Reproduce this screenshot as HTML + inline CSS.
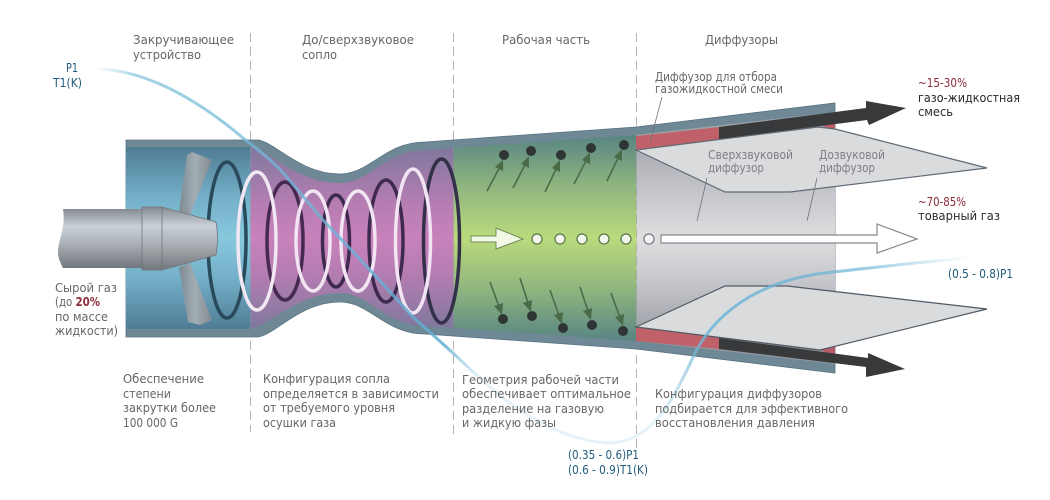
<!DOCTYPE html>
<html><head><meta charset="utf-8"><style>
html,body{margin:0;padding:0;background:#fff;width:1050px;height:500px;overflow:hidden}
svg{display:block}
text{font-family:"DejaVu Sans","Liberation Sans",sans-serif;font-size:12.4px;fill:#666}
.d{fill:#1f5b7a}.k{fill:#2a2a2a}.r{fill:#8c2c38}.g{fill:#7d7f84}
</style></head><body>
<svg width="1050" height="500" viewBox="0 0 1050 500" xmlns="http://www.w3.org/2000/svg">
<defs>
<linearGradient id="bl" gradientUnits="userSpaceOnUse" x1="0" y1="147" x2="0" y2="329"><stop offset="0" stop-color="#4f7c94"/><stop offset=".28" stop-color="#74b0c9"/><stop offset=".5" stop-color="#88c8dd"/><stop offset=".72" stop-color="#74b0c9"/><stop offset="1" stop-color="#4f7c94"/></linearGradient>
<linearGradient id="pu" gradientUnits="userSpaceOnUse" x1="0" y1="147" x2="0" y2="329"><stop offset="0" stop-color="#7f789c"/><stop offset=".3" stop-color="#b47db2"/><stop offset=".5" stop-color="#c881bb"/><stop offset=".7" stop-color="#b47db2"/><stop offset="1" stop-color="#7f789c"/></linearGradient>
<linearGradient id="gr" gradientUnits="userSpaceOnUse" x1="0" y1="135" x2="0" y2="341"><stop offset="0" stop-color="#588582"/><stop offset=".25" stop-color="#8fb57f"/><stop offset=".5" stop-color="#bada7c"/><stop offset=".75" stop-color="#8fb57f"/><stop offset="1" stop-color="#588582"/></linearGradient>
<linearGradient id="gy" gradientUnits="userSpaceOnUse" x1="0" y1="130" x2="0" y2="346"><stop offset="0" stop-color="#a0a2aa"/><stop offset=".3" stop-color="#c6c7cc"/><stop offset=".5" stop-color="#dededf"/><stop offset=".7" stop-color="#c6c7cc"/><stop offset="1" stop-color="#94969e"/></linearGradient>
<linearGradient id="tb" x1="0" y1="0" x2="0" y2="1"><stop offset="0" stop-color="#858b91"/><stop offset=".3" stop-color="#c9d1d9"/><stop offset=".6" stop-color="#a9aeb3"/><stop offset="1" stop-color="#72777d"/></linearGradient>
<linearGradient id="bd" x1="0" y1="0" x2="1" y2="0"><stop offset="0" stop-color="#7e8a92"/><stop offset=".5" stop-color="#a3aeb4"/><stop offset="1" stop-color="#808a90"/></linearGradient>
<linearGradient id="ln" gradientUnits="userSpaceOnUse" x1="95" y1="0" x2="970" y2="0">
<stop offset="0" stop-color="#7cc0dc" stop-opacity="0"/><stop offset=".05" stop-color="#7cc0dc" stop-opacity=".7"/>
<stop offset=".4" stop-color="#62acd2" stop-opacity=".85"/><stop offset=".44" stop-color="#9acde2" stop-opacity=".25"/>
<stop offset=".64" stop-color="#9acde2" stop-opacity=".25"/><stop offset=".7" stop-color="#6cb4d6" stop-opacity=".85"/>
<stop offset=".88" stop-color="#6cb4d6" stop-opacity=".7"/><stop offset="1" stop-color="#7cc0dc" stop-opacity="0"/></linearGradient>
<clipPath id="in"><path d="M126,147 L250,147 C270,150 297,183 340,183 C370,183 385,150 425,150 L636,135 L835,112 L835,364 L636,341 L425,326 C385,326 370,293 340,293 C297,293 270,326 250,329 L126,329 Z"/></clipPath>
</defs>

<g stroke="#b5b5b5" stroke-width="1" stroke-dasharray="9 5" fill="none">
<path d="M250.500,33V432M453.500,33V434M636.500,33V448"/>
</g>

<path d="M126,140 L258,140 C275,142 300,174 340,174 C370,174 385,142 425,142 L636,127 L835,103 L835,373 L636,349 L425,334 C385,334 370,302 340,302 C300,302 275,335 258,337 L126,337 Z" fill="#6e8896" stroke="#587280" stroke-width=".8"/>
<g clip-path="url(#in)">
<rect x="126" y="100" width="124.500" height="280" fill="url(#bl)"/>
<rect x="250.500" y="100" width="203" height="280" fill="url(#pu)"/>
<rect x="453.500" y="100" width="183" height="280" fill="url(#gr)"/>
<rect x="636.500" y="100" width="199" height="280" fill="url(#gy)"/>
<path d="M250.500,33V432M453.500,33V434M636.500,33V448" stroke="#9a9aa0" stroke-dasharray="9 5" opacity=".6" fill="none"/>
</g>

<!-- blades -->
<polygon points="187,155 192,152 212,160 190,215 179,212" fill="url(#bd)"/>
<polygon points="179,267 190,263 212,320 200,325 188,322" fill="url(#bd)"/>

<!-- rings -->
<g fill="none" stroke-width="3.500">
<ellipse cx="227" cy="240" rx="19" ry="78" stroke="#284a5a"/>
<ellipse cx="285" cy="241" rx="18" ry="59" stroke="#45294f"/>
<ellipse cx="257" cy="241" rx="19" ry="69" stroke="#f2e8f3"/>
<ellipse cx="336" cy="241" rx="13.500" ry="46" stroke="#3e2a4e"/>
<ellipse cx="313" cy="241" rx="17" ry="50" stroke="#f2e4f2"/>
<ellipse cx="386" cy="241" rx="17" ry="61" stroke="#3e2a4e"/>
<ellipse cx="358" cy="241" rx="17" ry="50" stroke="#f2e4f2"/>
<ellipse cx="441.500" cy="241" rx="18" ry="82" stroke="#33304a"/>
<ellipse cx="413" cy="241" rx="17.500" ry="72" stroke="#f2e4f2"/>
</g>

<!-- nozzle -->
<path d="M63,209 L142,209 L142,268 L63,268 C60,262 58,258 58,252 C58,240 66,228 63,209 Z" fill="url(#tb)"/>
<path d="M142,207 L162,207 L216,222 Q219,238 216,255 L162,270 L142,270 Z" fill="url(#tb)" stroke="#70767c" stroke-width=".8"/>
<path d="M162,207V270" stroke="#70767c" stroke-width=".8"/>

<!-- green dots and arrows -->
<g fill="#2f3535"><circle cx="504" cy="155" r="5"/><circle cx="531" cy="151" r="5"/><circle cx="561" cy="155" r="5"/><circle cx="591" cy="148" r="5"/><circle cx="624" cy="145" r="5"/><circle cx="503" cy="319" r="5"/><circle cx="532" cy="316" r="5"/><circle cx="563" cy="328" r="5"/><circle cx="592" cy="325" r="5"/><circle cx="623" cy="331" r="5"/></g>
<g stroke="#4a6b48" stroke-width="1.600" fill="#4a6b48">
<path d="M487,191L502,163M513,188L528,159M545,192L559,163M574,184L589,155M607,181L621,152M490,282L501,312M520,278L530,309M550,290L561,321M580,287L590,317M611,293L622,323" fill="none"/>
</g>
<g fill="#4a6b48">
<polygon points="503,160 503,171 495,167"/><polygon points="529,156 529,168 521,164"/><polygon points="560,160 560,172 552,168"/><polygon points="590,152 590,164 582,160"/><polygon points="622,149 622,161 614,157"/>
<polygon points="502,315 494,306 503,303"/><polygon points="531,312 523,303 532,300"/><polygon points="562,324 554,315 563,312"/><polygon points="591,320 583,311 592,308"/><polygon points="623,326 615,317 624,314"/>
</g>

<polygon points="471,236 496,236 496,228 523,239 496,249 496,242 471,242" fill="#f2f7e6" stroke="#6e8c58" stroke-width="1"/>
<g fill="#f4f8ec" stroke="#5e7a4e" stroke-width="1.300"><circle cx="537" cy="239" r="5"/><circle cx="560" cy="239" r="5"/><circle cx="582" cy="239" r="5"/><circle cx="604" cy="239" r="5"/><circle cx="626" cy="239" r="5"/></g>
<circle cx="649" cy="239" r="5" fill="#f5f5f7" stroke="#777b80" stroke-width="1.300"/>
<polygon points="661,235 877,235 877,224 917,239 877,253 877,243 661,243" fill="#fff" stroke="#85888e" stroke-width="1.200"/>

<!-- red bands -->
<polygon points="636,136 720,127 720,139 636,150" fill="#c0616a"/>
<polygon points="636,327 720,338 720,349 636,341" fill="#c0616a"/>
<polygon points="818,124 835,120 835,131" fill="#b95c66"/>
<polygon points="820,350 835,345 835,356" fill="#b95c66"/>

<!-- diffusers -->
<polygon points="636,150 725,192 790,192 987,168 835,129 818,127" fill="#dadbdd" stroke="#5f6a74" stroke-width="1.200"/>
<polygon points="636,327 725,286 787,286 987,309 820,350" fill="#dadbdd" stroke="#4f5a64" stroke-width="1.200"/>

<!-- dark arrows -->
<polygon points="719,127 866,108 866,101 906,108 869,125 867,120 719,139" fill="#37393b"/>
<polygon points="719,338 868,358 868,353 905,369 866,377 866,367 719,349" fill="#37393b"/>

<!-- guide lines -->
<path d="M662,97L650,142M707,178L697,221M817,178L807,221" stroke="#6d7278" stroke-width=".8" fill="none"/>

<!-- flow line -->
<path d="M98,69 C140,70 190,93 243,138 C258,150 272,160 285,175 L323,220 L370,270 L413,317 L453,353 C490,388 540,438 607,443 C650,443 670,407 695,353 C720,305 770,278 833,272 C870,268 920,262 968,258" fill="none" stroke="url(#ln)" stroke-width="3"/>

<!-- text -->
<text x="133" y="44" textLength="101" lengthAdjust="spacingAndGlyphs">Закручивающее</text>
<text x="133" y="59" textLength="68" lengthAdjust="spacingAndGlyphs">устройство</text>
<text x="302" y="44" textLength="112" lengthAdjust="spacingAndGlyphs">До/сверхзвуковое</text>
<text x="302" y="59" textLength="35" lengthAdjust="spacingAndGlyphs">сопло</text>
<text x="502" y="44" textLength="88" lengthAdjust="spacingAndGlyphs">Рабочая часть</text>
<text x="705" y="44" textLength="73" lengthAdjust="spacingAndGlyphs">Диффузоры</text>
<text class="d" x="66" y="72" textLength="12" lengthAdjust="spacingAndGlyphs">P1</text>
<text class="d" x="53" y="87" textLength="29" lengthAdjust="spacingAndGlyphs">T1(K)</text>
<text x="655" y="81" textLength="122" lengthAdjust="spacingAndGlyphs">Диффузор для отбора</text>
<text x="655" y="93" textLength="128" lengthAdjust="spacingAndGlyphs">газожидкостной смеси</text>
<text class="r" x="918" y="87" textLength="49" lengthAdjust="spacingAndGlyphs">~15-30%</text>
<text class="k" x="918" y="102" textLength="102" lengthAdjust="spacingAndGlyphs">газо-жидкостная</text>
<text class="k" x="918" y="116" textLength="35" lengthAdjust="spacingAndGlyphs">смесь</text>
<text class="g" x="708" y="159" textLength="85" lengthAdjust="spacingAndGlyphs">Сверхзвуковой</text>
<text class="g" x="708" y="172" textLength="56" lengthAdjust="spacingAndGlyphs">диффузор</text>
<text class="g" x="819" y="159" textLength="66" lengthAdjust="spacingAndGlyphs">Дозвуковой</text>
<text class="g" x="819" y="172" textLength="56" lengthAdjust="spacingAndGlyphs">диффузор</text>
<text class="r" x="918" y="206" textLength="48" lengthAdjust="spacingAndGlyphs">~70-85%</text>
<text class="k" x="918" y="220" textLength="82" lengthAdjust="spacingAndGlyphs">товарный газ</text>
<text class="d" x="948" y="278" textLength="65" lengthAdjust="spacingAndGlyphs">(0.5 - 0.8)P1</text>
<text x="55" y="292" textLength="62" lengthAdjust="spacingAndGlyphs">Сырой газ</text>
<text x="55" y="306" textLength="45" lengthAdjust="spacingAndGlyphs">(до <tspan class="r" font-weight="bold">20%</tspan></text>
<text x="55" y="321" textLength="53" lengthAdjust="spacingAndGlyphs">по массе</text>
<text x="55" y="335" textLength="63" lengthAdjust="spacingAndGlyphs">жидкости)</text>
<text x="123" y="383" textLength="81" lengthAdjust="spacingAndGlyphs">Обеспечение</text>
<text x="123" y="398" textLength="48" lengthAdjust="spacingAndGlyphs">степени</text>
<text x="123" y="412" textLength="93" lengthAdjust="spacingAndGlyphs">закрутки более</text>
<text x="123" y="427" textLength="55" lengthAdjust="spacingAndGlyphs">100 000 G</text>
<text x="263" y="383" textLength="127" lengthAdjust="spacingAndGlyphs">Конфигурация сопла</text>
<text x="263" y="398" textLength="176" lengthAdjust="spacingAndGlyphs">определяется в зависимости</text>
<text x="263" y="412" textLength="132" lengthAdjust="spacingAndGlyphs">от требуемого уровня</text>
<text x="263" y="427" textLength="73" lengthAdjust="spacingAndGlyphs">осушки газа</text>
<text x="462" y="384" textLength="157" lengthAdjust="spacingAndGlyphs">Геометрия рабочей части</text>
<text x="462" y="398" textLength="169" lengthAdjust="spacingAndGlyphs">обеспечивает оптимальное</text>
<text x="462" y="413" textLength="142" lengthAdjust="spacingAndGlyphs">разделение на газовую</text>
<text x="462" y="427" textLength="94" lengthAdjust="spacingAndGlyphs">и жидкую фазы</text>
<text x="655" y="398" textLength="167" lengthAdjust="spacingAndGlyphs">Конфигурация диффузоров</text>
<text x="655" y="413" textLength="193" lengthAdjust="spacingAndGlyphs">подбирается для эффективного</text>
<text x="655" y="427" textLength="160" lengthAdjust="spacingAndGlyphs">восстановления давления</text>
<text class="d" x="568" y="459" textLength="71" lengthAdjust="spacingAndGlyphs">(0.35 - 0.6)P1</text>
<text class="d" x="568" y="474" textLength="80" lengthAdjust="spacingAndGlyphs">(0.6 - 0.9)T1(K)</text>
</svg>
</body></html>
